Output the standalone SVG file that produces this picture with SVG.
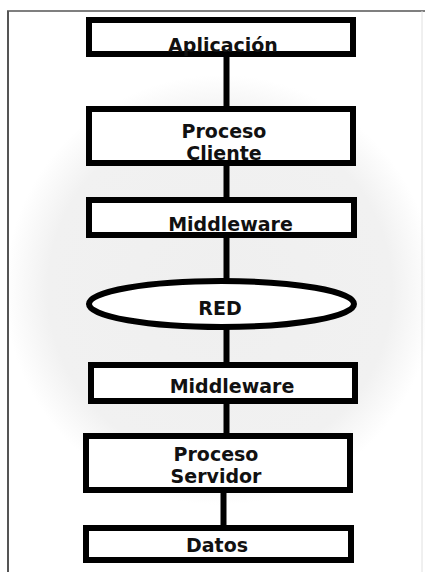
<svg xmlns="http://www.w3.org/2000/svg" width="425" height="572" viewBox="0 0 425 572">
<style>
.box{fill:#fff;stroke:#000;stroke-width:6}
.lbl{font-family:"DejaVu Sans",Verdana,sans-serif;font-weight:bold;font-size:19px;fill:#111;text-anchor:middle}
.conn{stroke:#000;stroke-width:6}
</style>
<defs>
<radialGradient id="bg" cx="220" cy="290" r="215" gradientUnits="userSpaceOnUse">
<stop offset="0" stop-color="#efefef"/>
<stop offset="0.8" stop-color="#f1f1f1"/>
<stop offset="1" stop-color="#ffffff"/>
</radialGradient>
</defs>
<rect width="425" height="572" fill="#fff"/>
<ellipse cx="220" cy="290" rx="215" ry="230" fill="url(#bg)"/>
<g id="frame" stroke="#555" fill="none">
<line x1="7" y1="11" x2="425" y2="11" stroke-width="1.5"/>
<line x1="8" y1="11" x2="8" y2="572" stroke-width="2"/>
<line x1="422" y1="11" x2="422" y2="572" stroke="#e0e0e0" stroke-width="1"/>
</g>
<g id="connectors">
<line class="conn" x1="226.5" y1="55" x2="226.5" y2="108"/>
<line class="conn" x1="226.5" y1="164" x2="226.5" y2="199"/>
<line class="conn" x1="226.5" y1="236" x2="226.5" y2="280"/>
<line class="conn" x1="226.5" y1="328" x2="226.5" y2="364"/>
<line class="conn" x1="226.5" y1="402" x2="226.5" y2="435"/>
<line class="conn" x1="223.5" y1="491" x2="223.5" y2="527"/>
</g>
<g id="aplicacion"><rect class="box" x="89" y="20" width="264" height="34"/><text class="lbl" x="223" y="52">Aplicación</text></g>
<g id="proceso-cliente"><rect class="box" x="89" y="109" width="264" height="54"/><text class="lbl" x="224" y="137.5">Proceso</text><text class="lbl" x="224" y="159.5">Cliente</text></g>
<g id="middleware-1"><rect class="box" x="89" y="200" width="265" height="35"/><text class="lbl" x="230.5" y="231">Middleware</text></g>
<g id="red"><ellipse class="box" cx="221.5" cy="304" rx="132.5" ry="23"/><text class="lbl" x="220" y="315">RED</text></g>
<g id="middleware-2"><rect class="box" x="91" y="365" width="264" height="36"/><text class="lbl" x="232" y="393">Middleware</text></g>
<g id="proceso-servidor"><rect class="box" x="86" y="436" width="264" height="54"/><text class="lbl" x="216" y="461">Proceso</text><text class="lbl" x="216" y="483">Servidor</text></g>
<g id="datos"><rect class="box" x="86" y="528" width="265" height="32"/><text class="lbl" x="217" y="552">Datos</text></g>
</svg>
